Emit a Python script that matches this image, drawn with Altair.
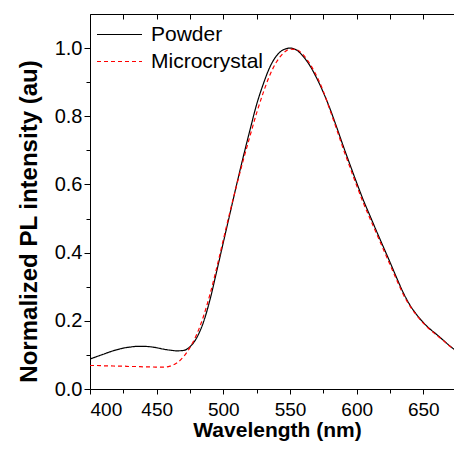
import altair as alt
import pandas as pd

wavelength = [400, 405, 410, 415, 420, 425, 430, 435, 440, 445, 450, 455, 460, 465, 470,
              475, 480, 485, 490, 495, 500, 505, 510, 515, 520, 525, 530, 535, 540, 545,
              550, 555, 560, 565, 570, 575, 580, 585, 590, 595, 600, 605, 610, 615, 620,
              625, 630, 635, 640, 645, 650, 655, 660, 665, 670, 675, 680]

powder = [0.088, 0.095, 0.102, 0.109, 0.115, 0.120, 0.123, 0.125, 0.125, 0.124, 0.121,
          0.117, 0.114, 0.112, 0.113, 0.124, 0.150, 0.195, 0.262, 0.345, 0.430, 0.515,
          0.600, 0.682, 0.760, 0.835, 0.895, 0.945, 0.978, 0.995, 1.000, 0.994, 0.975,
          0.948, 0.912, 0.870, 0.822, 0.768, 0.712, 0.658, 0.605, 0.554, 0.508, 0.462,
          0.417, 0.372, 0.326, 0.282, 0.246, 0.218, 0.195, 0.176, 0.160, 0.143, 0.126,
          0.111, 0.097]

microcrystal = [0.069, 0.069, 0.068, 0.068, 0.067, 0.067, 0.066, 0.066, 0.065, 0.065,
                0.064, 0.064, 0.067, 0.076, 0.094, 0.122, 0.160, 0.212, 0.278, 0.355,
                0.438, 0.520, 0.598, 0.672, 0.742, 0.810, 0.870, 0.922, 0.960, 0.985,
                0.997, 0.995, 0.980, 0.953, 0.918, 0.873, 0.818, 0.762, 0.704, 0.650,
                0.597, 0.546, 0.500, 0.455, 0.410, 0.365, 0.320, 0.277, 0.243, 0.216,
                0.193, 0.174, 0.158, 0.142, 0.125, 0.110, 0.096]

series_names = ["Powder", "Microcrystal"]
series_colors = ["#000000", "#ff0000"]
x_ticks = [400, 425, 450, 475, 500, 525, 550, 575, 600, 625, 650, 675]
y_ticks = [0.0, 0.1, 0.2, 0.3, 0.4, 0.5, 0.6, 0.7, 0.8, 0.9, 1.0]

rows = []
for name, vals in zip(series_names, [powder, microcrystal]):
    for w, v in zip(wavelength, vals):
        rows.append({"wl": w, "v": v, "series": name})
df = pd.DataFrame(rows)

FONT = "Liberation Sans"
xscale = alt.Scale(domain=[400, 673], nice=False, zero=False)
yscale = alt.Scale(domain=[0, 1.1], nice=False)

y_enc = alt.Y("v:Q", scale=yscale, title="Normalized PL intensity (au)",
              axis=alt.Axis(values=y_ticks, format=".1f",
                            labelExpr="round(datum.value * 10) % 2 == 0 ? datum.label : ''",
                            tickSize={"condition": {"test": "round(datum.value * 10) % 2 == 0", "value": 6}, "value": 4},
                            labelFontSize=20, labelPadding=2, titlePadding=13,
                            titleFontSize=24, titleY=207, grid=False))

lines = alt.Chart(df).mark_line(interpolate="monotone", strokeWidth=1.2, clip=True).encode(
    x=alt.X("wl:Q", scale=xscale, title="Wavelength (nm)",
            axis=alt.Axis(values=x_ticks, format="d",
                          labelExpr="datum.value % 50 == 0 ? datum.label : ''",
                          tickSize={"condition": {"test": "datum.value % 50 == 0", "value": 5}, "value": 4},
                          labelFontSize=19, labelPadding=6, titlePadding=0,
                          titleFontSize=21, titleX=187, grid=False)),
    y=y_enc,
    color=alt.Color("series:N", scale=alt.Scale(domain=series_names, range=series_colors),
                    legend=alt.Legend(title=None, orient="none", legendX=6, legendY=9)),
    strokeDash=alt.StrokeDash("series:N",
                              scale=alt.Scale(domain=series_names, range=[[1, 0], [4, 3]]),
                              legend=alt.Legend(title=None, orient="none", legendX=6, legendY=9)),
)

top = alt.Chart(df).mark_line(opacity=0).encode(
    x=alt.X("wl:Q", scale=xscale,
            axis=alt.Axis(orient="top", values=x_ticks, labels=False, title=None,
                          tickSize={"expr": "-5"}, grid=False)),
    y=y_enc,
)

chart = alt.layer(lines, top).resolve_axis(x="independent").properties(
    width=364, height=375, autosize="none",
    padding={"left": 82, "top": 6, "right": 0, "bottom": 52},
).configure_view(stroke=None).configure_axis(
    domainColor="#000000", tickColor="#000000", domainWidth=1, tickWidth=1,
    labelFont=FONT, labelColor="#000000",
    titleFont=FONT, titleFontWeight="bold", titleColor="#000000",
).configure_legend(
    symbolType="stroke", symbolSize=2025, symbolStrokeWidth=1.2,
    clipHeight=23, labelOffset=8,
    labelFont=FONT, labelFontSize=21, labelColor="#000000",
    rowPadding=4, padding=0,
)

chart.save("out.html", embed_options={"renderer": "svg", "actions": False})
